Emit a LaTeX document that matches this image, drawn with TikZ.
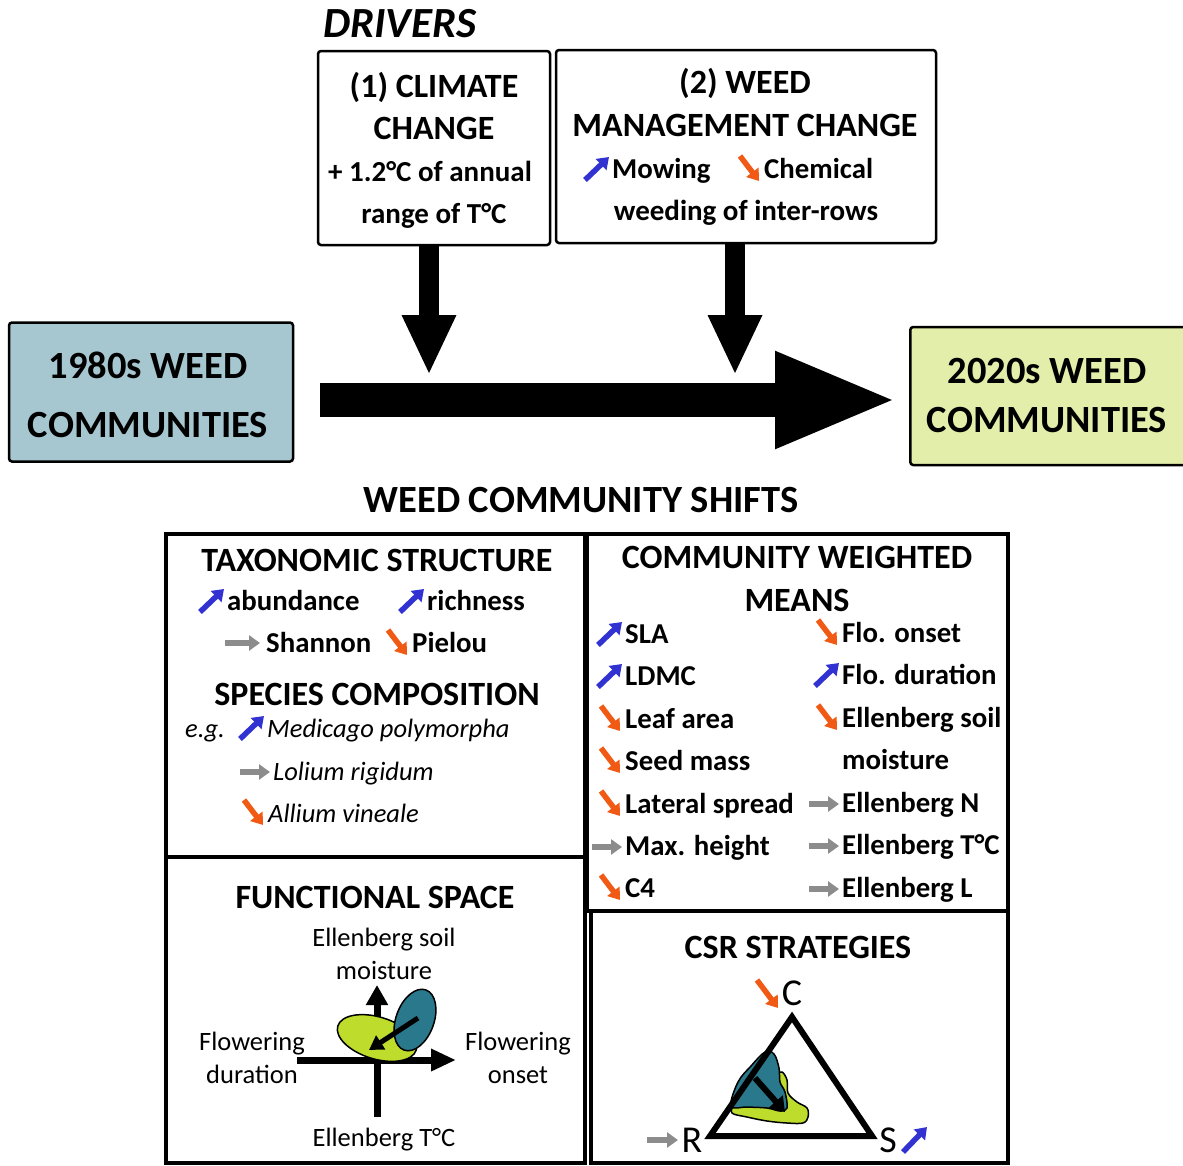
\documentclass[tikz,border=0pt]{standalone}
\usepackage{fontspec}
\setmainfont{Carlito}
\usetikzlibrary{positioning,arrows.meta}

\definecolor{upBlue}{HTML}{3232D2}
\definecolor{downOrange}{HTML}{F05A14}
\definecolor{flatGray}{HTML}{8C8C8C}
\definecolor{oldFill}{HTML}{A6C7D0}
\definecolor{newFill}{HTML}{E2EEAA}
\definecolor{tealBlob}{HTML}{2A788C}
\definecolor{limeBlob}{HTML}{BEDC2C}

\tikzset{
  boxLine/.style={draw,line width=2.5pt,rounded corners=3pt,inner sep=0pt},
  panel/.style={line width=4.5pt},
  bigHead/.style={font=\fontsize{38.5}{42}\selectfont\bfseries,anchor=base,inner sep=0pt},
  head/.style={font=\fontsize{34}{38}\selectfont\bfseries,anchor=base,inner sep=0pt},
  sub/.style={font=\fontsize{29}{33}\selectfont\bfseries,anchor=base,inner sep=0pt},
  item/.style={font=\fontsize{28.8}{33}\selectfont\bfseries,anchor=base west,inner sep=0pt},
  species/.style={font=\fontsize{26.5}{30}\selectfont\itshape,anchor=base west,inner sep=0pt},
  axisLab/.style={font=\fontsize{26.5}{30}\selectfont,anchor=base,inner sep=0pt},
  corner/.style={font=\fontsize{38}{42}\selectfont,inner sep=0pt},
  iconArrow/.style={line width=5.5pt,-{Triangle[length=11pt,width=15pt]}},
  blockArrow/.style={line width=20pt,-{Triangle[length=60pt,width=50pt]}},
  incr/.pic={\draw[iconArrow,upBlue] (-27,2) -- (-3,-21);},
  decr/.pic={\draw[iconArrow,downOrange] (-24,-22) -- (-5,3);},
  same/.pic={\draw[iconArrow,flatGray] (-33,-8) -- (-3,-8);},
}

\begin{document}
\begin{tikzpicture}[x=1pt,y=-1pt,>=latex]
\useasboundingbox (0,0) rectangle (1183,1165);

% drivers
\node[bigHead,anchor=base west,font=\fontsize{43}{46}\selectfont\bfseries\itshape] (driversTitle) at (323,37) {DRIVERS};
\node[boxLine,minimum width=232,minimum height=194] (climateBox) at (434,148) {};
\node[boxLine,minimum width=380,minimum height=193] (mgmtBox) at (746,146.5) {};

\node[head] (climateA) at (434,97) {(1) CLIMATE};
\node[head] (climateB) at (434,139) {CHANGE};
\node[sub] (climateC) at (430,181) {+ 1.2°C of annual};
\node[sub] (climateD) at (434,223) {range of T°C};

\node[head] (mgmtA) at (745,93) {(2) WEED};
\node[head] (mgmtB) at (745,136) {MANAGEMENT CHANGE};
\node[item] (mowing) at (612,178) {Mowing};
\pic at (mowing.base west) {incr};
\node[item] (chemical) at (764,178) {Chemical};
\pic at (chemical.base west) {decr};
\node[sub] (mgmtD) at (746,220) {weeding of inter-rows};

% communities and time arrow
\node[boxLine,fill=oldFill,minimum width=284,minimum height=139] (oldComm) at (151,392) {};
\node[bigHead] (oldA) at (148,378) {1980s WEED};
\node[bigHead] (oldB) at (148,437) {COMMUNITIES};
\node[boxLine,fill=newFill,minimum width=290,minimum height=138,anchor=west] (newComm) at (909,396) {};
\node[bigHead] (newA) at (1047,383) {2020s WEED};
\node[bigHead] (newB) at (1047,432) {COMMUNITIES};

\coordinate (timeStart) at (320,400);
\coordinate (timeTip) at (898,400);
\draw[line width=34pt,-{Triangle[length=123pt,width=88pt]}] (timeStart) -- (timeTip);

\coordinate (climateHit) at (429,375);
\coordinate (mgmtHit) at (735,375);
\draw[blockArrow] (climateHit |- climateBox.south) -- (climateHit);
\draw[blockArrow] (mgmtHit |- mgmtBox.south) -- (mgmtHit);

% shifts
\node[head,font=\fontsize{38.5}{42}\selectfont\bfseries] (shiftsTitle) at (581,512) {WEED COMMUNITY SHIFTS};
\draw[panel] (166,534) rectangle (585,857);
\draw[panel] (166,857) rectangle (585,1163);
\draw[panel] (587,534) rectangle (1008,911);
\draw[panel] (591,911) rectangle (1008,1163);

% taxonomic structure
\node[head] (taxTitle) at (377,571) {TAXONOMIC STRUCTURE};
\node[item] (abund) at (227,610) {abundance};
\pic at (abund.base west) {incr};
\node[item] (rich) at (427,610) {richness};
\pic at (rich.base west) {incr};
\node[item] (shannon) at (266,652) {Shannon};
\draw[iconArrow,flatGray] (225,643) -- (260,643);
\node[item] (pielou) at (412,652) {Pielou};
\pic at (pielou.base west) {decr};
\node[head] (compTitle) at (377,705) {SPECIES COMPOSITION};
\node[species] (eg) at (185,737) {e.g.};
\node[species] (medicago) at (267,737) {Medicago polymorpha};
\pic at (medicago.base west) {incr};
\node[species] (lolium) at (273,780) {Lolium rigidum};
\pic at (lolium.base west) {same};
\node[species] (allium) at (268,822) {Allium vineale};
\pic at (allium.base west) {decr};

% community weighted means
\node[head] (cwmA) at (797,568) {COMMUNITY WEIGHTED};
\node[head] (cwmB) at (797,611) {MEANS};
\foreach \nm/\y/\lab/\kind in {sla/643/SLA/incr, ldmc/685/LDMC/incr,
    leaf/728/Leaf area/decr, seed/770/Seed mass/decr, lateral/813/Lateral spread/decr,
    maxh/855/Max. height/same, cfour/897/C4/decr}{
  \node[item] (\nm) at (625,\y) {\lab};
  \pic at (\nm.base west) {\kind};
}
\foreach \nm/\y/\lab/\kind in {onset/642/Flo. onset/decr, duration/684/Flo. duration/incr,
    moist/727/Ellenberg soil/decr, ellN/812/Ellenberg N/same,
    ellT/854/Ellenberg T°C/same, ellL/897/Ellenberg L/same}{
  \node[item] (\nm) at (842,\y) {\lab};
  \pic at (\nm.base west) {\kind};
}
\node[item] (moistB) at (842,769) {moisture};

% functional space
\node[head] (fsTitle) at (375,908) {FUNCTIONAL SPACE};
\node[axisLab] (soilA) at (384,946) {Ellenberg soil};
\node[axisLab] (soilB) at (384,979) {moisture};
\node[axisLab] (durA) at (252,1050) {Flowering};
\node[axisLab] (durB) at (252,1083) {duration};
\node[axisLab] (onA) at (518,1050) {Flowering};
\node[axisLab] (onB) at (518,1083) {onset};
\node[axisLab] (tempLab) at (384,1146) {Ellenberg T°C};
\coordinate (fsLeft) at (297,1060);
\coordinate (fsRight) at (456,1060);
\coordinate (fsBottom) at (377,1117);
\coordinate (fsTop) at (377,985);
\draw[line width=7pt,-{Triangle[length=25pt,width=21pt]}] (fsLeft) -- (fsRight);
\draw[line width=7pt,-{Triangle[length=20pt,width=21pt]}] (fsBottom) -- (fsTop);
\draw[fill=limeBlob,line width=1.5pt,rotate around={-17:(377,1038)}] (377,1038) ellipse (41 and 21);
\draw[fill=tealBlob,line width=1.5pt,rotate around={70:(415,1020)}] (415,1020) ellipse (32 and 19);
\draw[line width=5pt,-{Triangle[length=14pt,width=16pt]}] (418,1018) -- (369,1050);

% CSR strategies
\node[head] (csrTitle) at (798,958) {CSR STRATEGIES};
\draw[fill=limeBlob,line width=1.5pt] plot[smooth cycle,tension=0.6] coordinates {
  (732,1113) (737,1105) (767,1105) (778,1103) (777,1077) (782,1072) (787,1080)
  (788,1093) (797,1102) (807,1108) (808,1117) (803,1123) (787,1123) (767,1121) (747,1117)};
\draw[fill=tealBlob,line width=1.5pt] plot[smooth cycle,tension=0.6] coordinates {
  (731,1106) (738,1082) (751,1066) (765,1052) (774,1054) (779,1068) (780,1082)
  (785,1092) (787,1108) (780,1111) (767,1108) (747,1107)};
\draw[line width=6pt] (792,1017) -- (872,1136) -- (710,1136) -- cycle;
\draw[line width=6pt,-{Triangle[length=14pt,width=18pt]}] (755,1078) -- (785,1112);
\node[corner] (cLab) at (792,993) {C};
\node[corner] (rLab) at (692,1140) {R};
\node[corner] (sLab) at (888,1140) {S};
\draw[iconArrow,downOrange] (757,980) -- (778,1008);
\draw[iconArrow,flatGray] (647,1140) -- (678,1140);
\draw[iconArrow,upBlue] (903,1152) -- (927,1127);
\end{tikzpicture}
\end{document}
